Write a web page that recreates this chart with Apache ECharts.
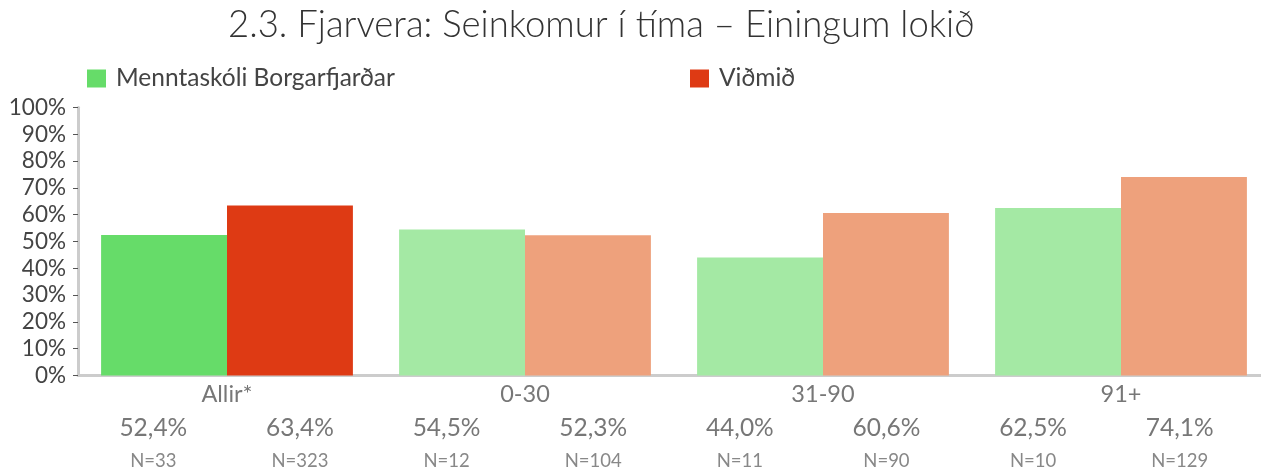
<!DOCTYPE html>
<html>
<head>
<meta charset="utf-8">
<script src="https://cdn.jsdelivr.net/npm/echarts@6/dist/echarts.min.js"></script>
<style>
  html, body { margin: 0; padding: 0; background: #fff; }
  #chart { width: 1261px; height: 468px; }
</style>
</head>
<body>
<div id="chart"></div>
<script>
// Seinkomur í tíma, skipt eftir fjölda lokinna eininga
const categories = ['Allir*', '0-30', '31-90', '91+'];
const schoolName = 'Menntaskóli Borgarfjarðar';
const benchName = 'Viðmið';
const schoolPct = [52.4, 54.5, 44.0, 62.5];
const benchPct = [63.4, 52.3, 60.6, 74.1];
const schoolN = [33, 12, 11, 10];
const benchN = [323, 104, 90, 129];
const yTicks = [0, 10, 20, 30, 40, 50, 60, 70, 80, 90, 100];

const FONT = 'Lato';
const schoolStrong = '#66dc69';
const schoolLight = '#a4e9a4';
const benchStrong = '#de3a14';
const benchLight = '#eea17c';

const fmtPct = v => v.toFixed(1).replace('.', ',') + '%';

// Bottom row: value and N for each bar, school first then benchmark
const bottomLabels = [];
categories.forEach((c, i) => {
  bottomLabels.push('{v|' + fmtPct(schoolPct[i]) + '}\n{n|N=' + schoolN[i] + '}');
  bottomLabels.push('{v|' + fmtPct(benchPct[i]) + '}\n{n|N=' + benchN[i] + '}');
});

const barItems = (vals, strong, light) =>
  vals.map((v, i) => ({ value: v, itemStyle: { color: i === 0 ? strong : light } }));

const chart = echarts.init(document.getElementById('chart'), null, { renderer: 'canvas' });
chart.setOption({
  animation: false,
  backgroundColor: '#ffffff',
  textStyle: { fontFamily: FONT },
  title: {
    text: '2.3. Fjarvera: Seinkomur í tíma – Einingum lokið',
    left: 228,
    top: 7,
    padding: 0,
    textStyle: { fontFamily: FONT, fontSize: 36.5, fontWeight: 300, color: '#333333' }
  },
  legend: [
    {
      data: [{ name: schoolName, itemStyle: { color: schoolStrong } }],
      left: 87, top: 66, padding: 0,
      icon: 'rect', itemWidth: 19, itemHeight: 18,
      textStyle: { fontFamily: FONT, fontSize: 24.5, color: '#444444', padding: [0, 0, 0, 5] }
    },
    {
      data: [{ name: benchName, itemStyle: { color: benchStrong } }],
      left: 690, top: 66, padding: 0,
      icon: 'rect', itemWidth: 19, itemHeight: 18,
      textStyle: { fontFamily: FONT, fontSize: 24.5, color: '#444444', padding: [0, 0, 0, 5] }
    }
  ],
  grid: [
    { left: 78, width: 1192, top: 107.5, bottom: 92.5, containLabel: false, outerBoundsMode: 'none' },
    { left: 80, right: 8, top: 400, height: 1, containLabel: false, outerBoundsMode: 'none' }
  ],
  xAxis: [
    {
      type: 'category', gridIndex: 0, data: categories,
      axisLine: { show: true, lineStyle: { color: '#cccccc', width: 3 } },
      axisTick: { show: false },
      axisLabel: { fontFamily: FONT, fontSize: 23.5, color: '#777777', margin: 7, lineHeight: 24 }
    },
    {
      type: 'category', gridIndex: 1, position: 'bottom',
      data: bottomLabels,
      axisLine: { show: false }, axisTick: { show: false }, splitLine: { show: false },
      axisLabel: {
        margin: 9, interval: 0,
        rich: {
          v: { fontFamily: FONT, fontSize: 24.5, color: '#777777', lineHeight: 36 },
          n: { fontFamily: FONT, fontSize: 18.5, color: '#888888', lineHeight: 30 }
        }
      }
    }
  ],
  yAxis: [
    {
      type: 'value', gridIndex: 0, min: yTicks[0], max: yTicks[yTicks.length - 1], interval: 10,
      axisLine: { show: true, lineStyle: { color: '#cccccc', width: 3 } },
      axisTick: { show: true, length: 5, lineStyle: { color: '#555555', width: 1 } },
      splitLine: { show: false },
      axisLabel: { fontFamily: FONT, fontSize: 22.5, color: '#444444', margin: 12, formatter: '{value}%' }
    },
    { type: 'value', gridIndex: 1, show: false }
  ],
  series: [
    {
      name: schoolName, type: 'bar', xAxisIndex: 0, yAxisIndex: 0,
      barGap: '0%', barCategoryGap: '15.5%',
      data: barItems(schoolPct, schoolStrong, schoolLight)
    },
    {
      name: benchName, type: 'bar', xAxisIndex: 0, yAxisIndex: 0,
      barGap: '0%', barCategoryGap: '15.5%',
      data: barItems(benchPct, benchStrong, benchLight)
    }
  ]
});
</script>
</body>
</html>
